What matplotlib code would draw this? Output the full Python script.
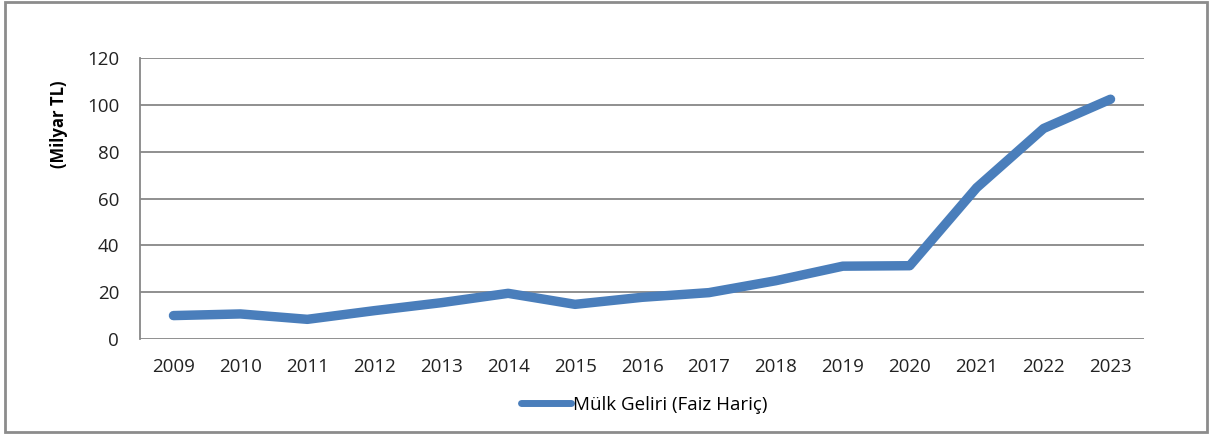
import matplotlib.pyplot as plt
from matplotlib.patches import Rectangle

years = ['2009', '2010', '2011', '2012', '2013', '2014', '2015', '2016',
         '2017', '2018', '2019', '2020', '2021', '2022', '2023']
mulk_geliri = [10.0, 10.7, 8.4, 12.1, 15.5, 19.5, 14.8, 17.8,
               19.8, 24.9, 31.1, 31.3, 64.6, 89.9, 102.4]
y_ticks = [0, 20, 40, 60, 80, 100, 120]

plt.rcParams['font.family'] = ['Open Sans', 'DejaVu Sans']

fig = plt.figure(figsize=(12.11, 4.34), dpi=100)
ax = fig.add_axes([140 / 1211, 95 / 434, 1004 / 1211, 281 / 434])

grid_col = '#878787'
x = list(range(len(years)))
ax.plot(x, mulk_geliri, color='#4A7EBB', linewidth=6.8,
        solid_capstyle='round', solid_joinstyle='round',
        label='Mülk Geliri (Faiz Hariç)', zorder=3)

ax.set_xlim(-0.5, len(years) - 0.5)
ax.set_ylim(0, 120)
ax.set_yticks(y_ticks)
ax.set_xticks(x)
ax.set_xticklabels(years)
ax.yaxis.grid(True, color=grid_col, linewidth=1.3)
ax.set_axisbelow(True)
for s in ['top', 'right', 'bottom']:
    ax.spines[s].set_visible(False)
ax.spines['left'].set_color(grid_col)
ax.spines['left'].set_linewidth(1.3)
ax.tick_params(length=0, labelsize=13.5, colors='#222222')
ax.tick_params(axis='y', pad=15)
ax.tick_params(axis='x', pad=14)

# y label sits above the axis centre in the original
fig.text(59 / 1211, 1 - 124 / 434, '(Milyar TL)', rotation=90,
         ha='center', va='center', fontsize=12, fontweight='bold')

leg = fig.legend(loc='center', bbox_to_anchor=(644 / 1211, 1 - 405 / 434),
                 frameon=False, fontsize=13.5, handlelength=2.7,
                 handletextpad=0.1)
leg.get_lines()[0].set_linewidth(5)

fig.patches.append(Rectangle((5 / 1211, 2 / 434), 1202 / 1211, 430 / 434,
                             transform=fig.transFigure, fill=False,
                             edgecolor='#8c8c8c', linewidth=2))

fig.savefig('out.png', dpi=100)
